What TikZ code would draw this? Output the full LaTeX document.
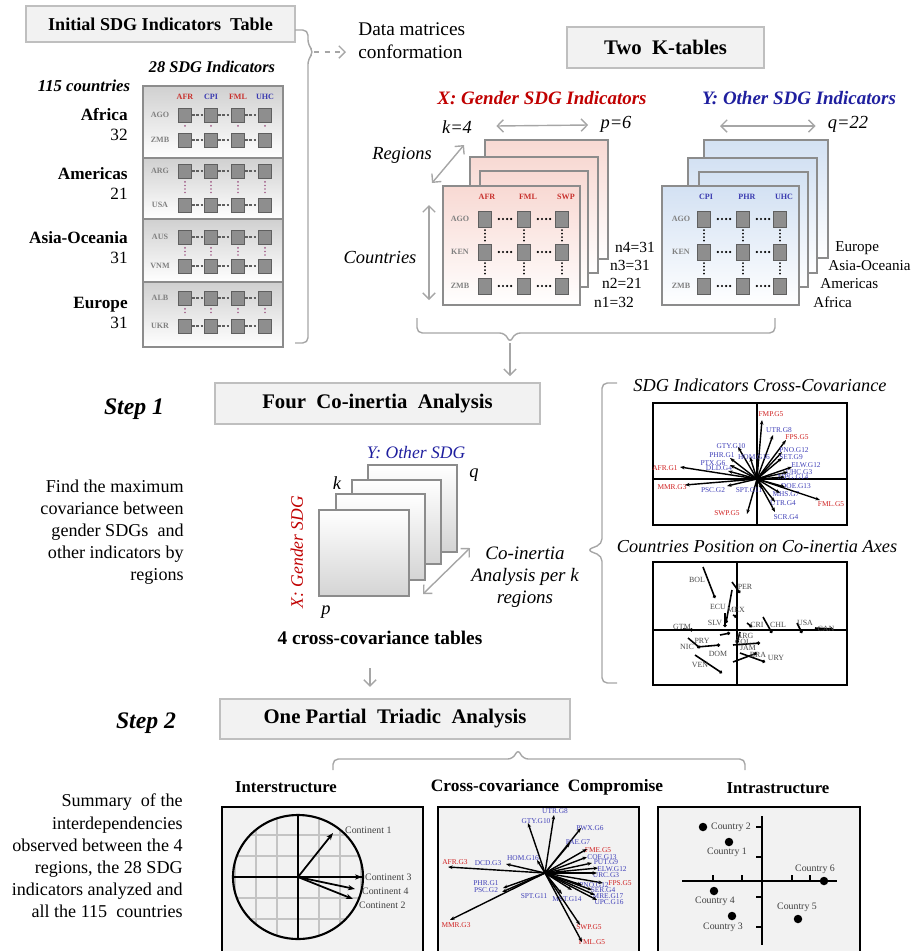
\documentclass[tikz,border=0pt]{standalone}
\usepackage{fontspec}
\setmainfont{Liberation Serif}
\usetikzlibrary{arrows.meta,positioning,calc}
\definecolor{boxfill}{HTML}{F2F2F2}
\definecolor{boxline}{HTML}{BFBFBF}
\definecolor{conn}{HTML}{A6A6A6}
\definecolor{xred}{HTML}{C00000}
\definecolor{yblue}{HTML}{1F1F9F}
\definecolor{hdred}{HTML}{C8302C}
\definecolor{hdblue}{HTML}{3A3AB0}
\definecolor{cellfill}{HTML}{8E8E8E}
\definecolor{celldraw}{HTML}{5F5F5F}
\definecolor{pageline}{HTML}{8C8C8C}
\definecolor{pinkpage}{HTML}{F8D9D3}
\definecolor{bluepage}{HTML}{D3E1F3}
\definecolor{graypage}{HTML}{D4D4D4}
\definecolor{tablegray}{HTML}{D0D0D0}
\definecolor{dotmauve}{HTML}{A05A86}
\definecolor{plotfill}{HTML}{F2F2F2}
\definecolor{gridgray}{HTML}{C4C4C4}
\definecolor{lblred}{HTML}{D02020}
\definecolor{lblblue}{HTML}{4040B8}
\newcommand{\fsz}[2]{\fontsize{#1}{#2}\selectfont}

\begin{document}
\begin{tikzpicture}[
  x=0.02cm, y=-0.02cm,
  >={Straight Barb[length=3.5pt,width=7pt]},
  titlebox/.style={draw=boxline, fill=boxfill, line width=0.9pt, inner sep=0pt,
    font=\bfseries\fsz{11.8}{14}},
  plainl/.style={font=\fsz{11}{13}, align=left, inner sep=0pt},
  ital/.style={font=\itshape\fsz{10.5}{12}, inner sep=0pt},
  stepl/.style={font=\bfseries\itshape\fsz{13.5}{16}, inner sep=0pt},
  para/.style={align=right, anchor=east, inner sep=0pt, font=\fsz{10.3}{12.6}},
  regl/.style={align=right, anchor=east, inner sep=0pt, font=\fsz{9.8}{11.4}},
  wire/.style={draw=conn, line width=0.8pt, rounded corners=3pt},
  warrow/.style={wire, ->},
  wboth/.style={wire, <->},
  page/.style={draw=pageline, line width=0.8pt},
  cell/.style={draw=celldraw, fill=cellfill, line width=0.5pt, inner sep=0pt,
    minimum width=0.26cm, minimum height=0.28cm},
  bigcell/.style={cell, minimum height=0.32cm},
  hdr/.style={font=\bfseries\fsz{4.6}{5}, inner sep=0pt},
  rowl/.style={font=\bfseries\fsz{4.6}{5}, text=gray, inner sep=0pt},
  hdots/.style={line width=1.4pt, dash pattern=on 0pt off 2.3pt, line cap=round},
  vdots/.style={line width=1.1pt, dash pattern=on 0pt off 2pt, line cap=round},
  plotframe/.style={draw=black, line width=1pt},
  vec/.style={-{Stealth[length=2.6pt,width=2pt]}, line width=0.8pt},
  lab/.style={font=\fsz{4.2}{4.5}, inner sep=0.3pt},
  seg/.style={line width=0.9pt, -{Circle[length=1.8pt]}},
  ctry/.style={font=\fsz{5.6}{6}, inner sep=0.5pt, text=black!75},
  ptdot/.style={circle, fill=black, inner sep=0pt, minimum size=0.17cm}
]
\useasboundingbox (0,0) rectangle (916,951);

% initial table
\node[titlebox, font=\bfseries\fsz{10.3}{12}, minimum width=5.38cm, minimum height=0.72cm] (initbox)
  at (160.5,24) {Initial SDG Indicators\ \ Table};
\node[font=\bfseries\itshape\fsz{9.3}{11}, inner sep=0pt] (nind) at (212,67) {28 SDG Indicators};
\node[font=\bfseries\itshape\fsz{9.5}{11}, inner sep=0pt] (ncty) at (84,86) {115 countries};

\foreach \i/\ya/\yb/\ra/\rb/\la/\lb in {1/86/158/115/140/AGO/ZMB, 2/158/219/171/205/ARG/USA,
    3/219/282/237/266/AUS/VNM, 4/282/347/298/326/ALB/UKR}{
  \path[draw=pageline, line width=0.7pt, top color=tablegray, bottom color=white]
    (143,\ya) rectangle (283,\yb);
  \node[rowl] (tl\i a) at (160,\ra) {\la};
  \node[rowl] (tl\i b) at (160,\rb) {\lb};
  \foreach \c/\cx in {1/185,2/211,3/238,4/265}{
    \node[cell] (t\i-\c-a) at (\cx,\ra) {};
    \node[cell] (t\i-\c-b) at (\cx,\rb) {};
    \draw[dotmauve, vdots, shorten <=2pt, shorten >=2pt] (t\i-\c-a) -- (t\i-\c-b);
  }
  \foreach \c/\n in {1/2,2/3,3/4}{
    \draw[celldraw, line width=0.6pt, dash pattern=on 1.5pt off 1pt] (t\i-\c-a) -- (t\i-\n-a);
    \draw[celldraw, line width=0.6pt, dash pattern=on 1.5pt off 1pt] (t\i-\c-b) -- (t\i-\n-b);
  }
}
\foreach \c/\cx/\t/\cc in {1/185/AFR/hdred, 2/211/CPI/hdblue, 3/238/FML/hdred, 4/265/UHC/hdblue}
  \node[hdr, text=\cc] (th\c) at (\cx,97) {\t};

\node[regl] (rg1) at (128,125) {\textbf{Africa}\\32};
\node[regl] (rg2) at (128,184) {\textbf{Americas}\\21};
\node[regl] (rg3) at (128,248) {\textbf{Asia-Oceania}\\31};
\node[regl] (rg4) at (128,313) {\textbf{Europe}\\31};

\coordinate (brtip) at (314,52);
\draw[wire] (295,30) -- (308,30) -- (308,45) -- (brtip) -- (308,59) -- (308,343) -- (295,343);
\node[plainl, anchor=west] (datatxt) at (358,41) {Data matrices\\conformation};
\draw[warrow, dashed, rounded corners=0pt] (brtip) -- ($(datatxt.west)+(-12,11)$);

% two K-tables
\node[titlebox, minimum width=3.94cm, minimum height=0.82cm] (ktab) at (665.5,47.5) {Two\ \ K-tables};
\node[font=\bfseries\itshape\fsz{10.8}{12}, text=xred, inner sep=0pt] (xtit) at (542,98)
  {X: Gender SDG Indicators};
\node[font=\bfseries\itshape\fsz{10.8}{12}, text=yblue, inner sep=0pt] (ytit) at (799,98)
  {Y: Other SDG Indicators};
\node[ital] (kx) at (457,127) {k=4};
\node[ital] (px) at (616,124) {p=6};
\node[ital] (qy) at (848,124) {q=22};
\draw[wboth] ($(kx.east)+(24,-1)$) -- ($(px.west)+(-12,1)$);
\draw[wboth] (720,126) -- ($(qy.west)+(-12,2)$);
\node[ital] (regx) at (402,155) {Regions};
\node[ital] (ctyx) at (380,257) {Countries};
\coordinate (rga) at (432,183);
\coordinate (rgb) at (464,145);
\coordinate (cta) at (429,205);
\coordinate (ctb) at (429,300);
\draw[wboth] (rga) -- (rgb);
\draw[wboth] (cta) -- (ctb);

\foreach \xa/\ya/\xb/\yb in {485/140/608/259, 470/157/598/273, 480/171/588/287, 443/186/580/305}
  \path[page, top color=pinkpage, bottom color=white] (\xa,\ya) rectangle (\xb,\yb);
\foreach \xa/\ya/\xb/\yb in {704/140/828/258, 688/158/817/273, 699/172/808/287, 662/186/799/305}
  \path[page, top color=bluepage, bottom color=white] (\xa,\ya) rectangle (\xb,\yb);

\foreach \s/\xl/\xa/\xb/\xc/\ha/\hb/\hc/\hcol in {x/460/485/524/562/AFR/FML/SWP/hdred,
    y/681/704/743/780/CPI/PHR/UHC/hdblue}{
  \node[hdr, text=\hcol] (\s h1) at (\xa+2,197) {\ha};
  \node[hdr, text=\hcol] (\s h2) at (\xb+4,197) {\hb};
  \node[hdr, text=\hcol] (\s h3) at (\xc+4,197) {\hc};
  \foreach \r/\ry/\rl in {1/219/AGO, 2/252/KEN, 3/286/ZMB}{
    \node[rowl] (\s l\r) at (\xl,\ry) {\rl};
    \node[bigcell] (\s-\r-1) at (\xa,\ry) {};
    \node[bigcell] (\s-\r-2) at (\xb,\ry) {};
    \node[bigcell] (\s-\r-3) at (\xc,\ry) {};
    \draw[hdots, shorten <=4pt, shorten >=1.5pt] (\s-\r-1.east) -- (\s-\r-2.west);
    \draw[hdots, shorten <=4pt, shorten >=1.5pt] (\s-\r-2.east) -- (\s-\r-3.west);
  }
  \foreach \c in {1,2,3}{
    \draw[vdots, shorten <=1.5pt, shorten >=1.5pt] (\s-1-\c.south) -- (\s-2-\c.north);
    \draw[vdots, shorten <=1.5pt, shorten >=1.5pt] (\s-2-\c.south) -- (\s-3-\c.north);
  }
}

\foreach \n/\nx/\ny/\t in {4/635/247/n4=31, 3/630/265/n3=31, 2/622/283/n2=21, 1/614/302/n1=32}
  \node[font=\fsz{8.8}{10}, inner sep=0pt] (nn\n) at (\nx,\ny) {\t};
\foreach \n/\nx/\ny/\t in {4/835/248/Europe, 3/828/266/Asia-Oceania, 2/820/284/Americas, 1/813/302/Africa}
  \node[font=\fsz{8.6}{10}, inner sep=0pt, anchor=west] (yr\n) at (\nx,\ny) {\t};

\coordinate (kbtip) at (510,343);
\draw[wire] (417,318) -- (417,333) -- (505,333) -- (kbtip) -- (515,333) -- (775,333) -- (775,318);

% step 1
\node[stepl] (step1) at (134,409) {Step 1};
\node[titlebox, minimum width=6.5cm, minimum height=0.82cm] (fourbox) at (377.5,403.5)
  {Four\ \ Co-inertia\ \ Analysis};
\draw[warrow, shorten >=3.5pt] (kbtip) -- (kbtip |- fourbox.north);
\node[para] (findtxt) at (184,532)
  {Find the maximum\\covariance between\\gender SDGs\ \ and\\other indicators by\\regions};

\foreach \xa/\ya/\xb/\yb in {368/465/457/552, 352/480/441/564, 336/494/425/580, 319/510/409/596}
  \path[page, top color=white, bottom color=graypage] (\xa,\ya) rectangle (\xb,\yb);
\node[font=\itshape\fsz{10}{12}, text=yblue, inner sep=0pt] (ysm) at (416,453) {Y: Other SDG};
\node[font=\itshape\fsz{10}{12}, text=xred, inner sep=0pt, rotate=90] (xsm) at (297,552) {X: Gender SDG};
\node[ital] (ksm) at (337,483) {k};
\node[ital] (qsm) at (474,475) {q};
\node[ital] (psm) at (326,612) {p};
\coordinate (cia) at (423,594);
\coordinate (cib) at (470,548);
\draw[wboth] (cia) -- (cib);
\node[font=\itshape\fsz{10.8}{12.6}, align=center, inner sep=0pt] (coin) at (525,577)
  {Co-inertia\\Analysis per k\\regions};
\node[font=\bfseries\fsz{11}{13}, inner sep=0pt] (tables4) at (380,638) {4 cross-covariance tables};

% right plots
\coordinate (rbtip) at (587,550);
\draw[wire] (617,383) -- (602,383) -- (602,544) -- (rbtip) -- (602,556) -- (602,683) -- (617,683);
\node[font=\itshape\fsz{10.4}{12}, inner sep=0pt] (pt1) at (760,385) {SDG Indicators Cross-Covariance};
\node[font=\itshape\fsz{10.4}{12}, inner sep=0pt] (pt2) at (757,547) {Countries Position on Co-inertia Axes};

\path[plotframe, fill=white] (653,403) rectangle (847,525);
\draw[line width=0.9pt] (757,403) -- (757,525) (653,479) -- (847,479);
\coordinate (o1) at (757,479);
\foreach \ex/\ey/\lx/\ly/\t/\c [count=\n] in {762/420/771/414/FMP.G5/lblred, 773/435/779/430/UTR.G8/lblblue,
    786/440/797/437/FPS.G5/lblred, 782/452/794/450/PNO.G12/lblblue, 782/458/791/457/SET.G9/lblblue,
    792/467/806/465/ELW.G12/lblblue, 788/472/799/472/UHC.G3/lblblue, 785/477/793/477/MPG.G14/lblblue,
    785/487/796/486/DOE.G13/lblblue, 780/493/786/494/MHS.G7/lblblue, 775/502/783/503/UTR.G4/lblblue,
    775/512/786/517/SCR.G4/lblblue, 820/500/831/504/FML.G5/lblred, 747/514/727/513/SWP.G5/lblred,
    762/489/749/490/SPT.G11/lblblue, 727/486/713/490/PSC.G2/lblblue, 685/485/672/487/MMR.G3/lblred,
    680/467/665/468/AFR.G1/lblred, 728/471/719/468/DLD.G4/lblblue, 730/465/713/463/PTX.G6/lblblue,
    730/458/722/455/PHR.G1/lblblue, 738/447/731/446/GTY.G10/lblblue, 750/457/754/457/HOM.G16/lblblue}{
  \node[lab, text=\c] (sa\n) at (\lx,\ly) {\t};
  \draw[vec] (o1) -- (\ex,\ey);
}

\path[plotframe, fill=white] (653,562) rectangle (847,685);
\draw[line width=0.9pt] (737,562) -- (737,685) (653,630) -- (847,630);
\foreach \xa/\ya/\xb/\yb in {703/567/715/598, 732/582/740/593, 732/590/726/623, 733/615/737/617,
    725/613/725/627, 763/617/772/633, 747/623/752/627, 797/623/802/633, 815/628/833/629,
    683/629/693/630, 688/638/700/648, 697/647/720/645, 733/645/760/643, 733/662/757/653,
    740/653/765/662, 695/655/722/673, 740/632/737/643, 720/635/730/633}
  \draw[seg] (\xa,\ya) -- (\xb,\yb);
\foreach \lx/\ly/\t [count=\n] in {697/580/BOL, 745/587/PER, 718/607/ECU, 736/610/MEX, 715/623/SLV,
    682/627/GTM, 757/625/CRI, 778/625/CHL, 805/623/USA, 826/629/CAN, 702/641/PRY, 745/636/ARG,
    687/647/NIC, 743/642/COL, 718/654/DOM, 748/648/JAM, 758/655/BRA, 776/658/URY, 700/665/VEN}
  \node[lab, font=\fsz{4.5}{5}, text=black!70] (cp\n) at (\lx,\ly) {\t};

% step 2
\node[stepl] (step2) at (146,723) {Step 2};
\node[titlebox, minimum width=7.0cm, minimum height=0.8cm] (partbox) at (395,719)
  {One Partial\ \ Triadic\ \ Analysis};
\coordinate (a4) at (370,668);
\draw[warrow, shorten >=6.5pt] (a4) -- (a4 |- partbox.north);
\coordinate (pbtip) at (518,749);
\draw[wire] (333,770) -- (333,759) -- (513,759) -- (pbtip) -- (523,759) -- (745,759) -- (745,770);
\node[para] (sumtxt) at (183,856)
  {Summary\ \ of the\\interdependencies\\observed between the 4\\regions, the 28 SDG\\indicators analyzed and\\all the 115\ \ countries};

\node[font=\bfseries\fsz{9.5}{11}, inner sep=0pt] (inter) at (286,787) {Interstructure};
\node[font=\bfseries\fsz{9.9}{11}, inner sep=0pt] (comp) at (547,787) {Cross-covariance\ \ Compromise};
\node[font=\bfseries\fsz{9.5}{11}, inner sep=0pt] (intra) at (778,788) {Intrastructure};

\path[plotframe, fill=plotfill] (222,807) rectangle (423,970);
\path[plotframe, fill=plotfill] (438,807) rectangle (639,970);
\path[plotframe, fill=plotfill] (658,807) rectangle (860,970);

% interstructure
\coordinate (o4) at (298,877);
\begin{scope}
  \clip (o4) ellipse [x radius=65, y radius=62];
  \foreach \d in {-63,-42,-21,21,42,63}{
    \draw[gridgray, line width=1pt] ({298+\d},800) -- ({298+\d},950);
    \draw[gridgray, line width=1pt] (220,{877+\d}) -- (380,{877+\d});
  }
\end{scope}
\draw[line width=1.2pt] (o4) ellipse [x radius=65, y radius=62];
\draw[line width=1pt] (233,877) -- (363,877) (298,815) -- (298,939);
\foreach \ex/\ey/\lx/\ly/\t [count=\n] in {333/833/344/830/Continent 1, 362/877/364/877/Continent 3,
    355/889/361/891/Continent 4, 353/899/358/905/Continent 2}{
  \draw[-{Stealth[length=4pt,width=3pt]}, line width=1pt] (o4) -- (\ex,\ey);
  \node[ctry, anchor=west] (ct\n) at (\lx,\ly) {\t};
}

% compromise
\coordinate (o3) at (545,873);
\foreach \ex/\ey/\lx/\ly/\t/\c [count=\n] in {554/815/555/811/UTR.G8/lblblue, 528/823/536/821/GTY.G10/lblblue,
    581/828/590/828/PWX.G6/lblblue, 570/843/578/842/PAE.G7/lblblue, 587/849/598/850/FME.G5/lblred,
    587/857/602/857/COE.G13/lblblue, 592/863/606/862/PUT.G9/lblblue, 598/868/612/869/ELW.G12/lblblue,
    597/873/606/875/URC.G3/lblblue, 603/883/620/883/FPS.G5/lblred, 582/885/594/885/PNO.G12/lblblue,
    592/890/603/890/SER.G4/lblblue, 595/895/608/896/MRE.G17/lblblue, 597/900/609/902/UPC.G16/lblblue,
    562/894/534/896/SPT.G11/lblblue, 572/890/567/899/MST.G14/lblblue, 580/925/589/927/SWP.G5/lblred,
    582/942/592/942/FML.G5/lblred, 450/920/456/925/MMR.G3/lblred, 448/867/455/862/AFR.G3/lblred,
    506/864/488/863/DCD.G3/lblblue, 537/860/523/858/HOM.G16/lblblue, 503/888/486/883/PHR.G1/lblblue,
    502/892/486/890/PSC.G2/lblblue}{
  \node[lab, text=\c] (cc\n) at (\lx,\ly) {\t};
  \draw[vec] (o3) -- (\ex,\ey);
}

% intrastructure
\draw[line width=1pt] (762,816) -- (762,945) (682,881) -- (837,881);
\foreach \ty in {827,857,897,927}
  \draw[line width=1pt] (756,\ty) -- (762,\ty);
\foreach \tx in {713,742,792,810}
  \draw[line width=1pt] (\tx,875) -- (\tx,881);
\foreach \dx/\dy/\lx/\ly/\a/\t [count=\n] in {703/827/710/827/west/Country 2, 729/842/727/852/center/Country 1,
    824/881/815/869/center/Country 6, 714/891/715/901/center/Country 4, 732/916/723/927/center/Country 3,
    798/919/797/907/center/Country 5}{
  \node[ptdot] (cd\n) at (\dx,\dy) {};
  \node[ctry, anchor=\a] (cl\n) at (\lx,\ly) {\t};
}
\end{tikzpicture}
\end{document}
